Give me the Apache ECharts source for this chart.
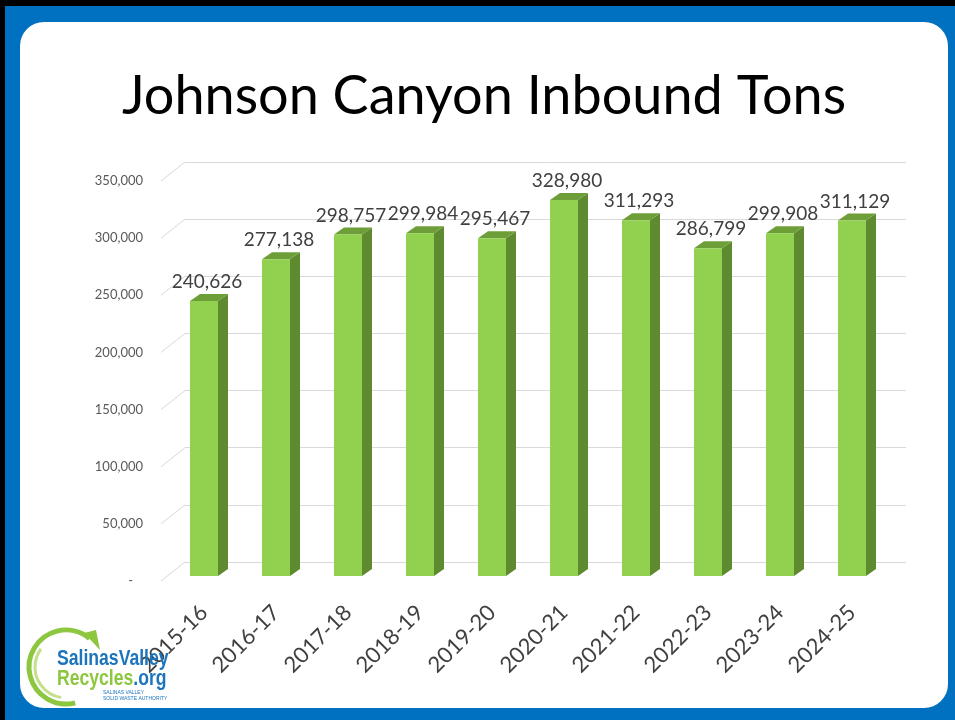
<!DOCTYPE html>
<html><head><meta charset="utf-8">
<script src="https://cdn.jsdelivr.net/npm/echarts@6/dist/echarts.min.js"></script>
<style>html,body{margin:0;padding:0;background:#0070C0;} #c{width:955px;height:720px;}</style>
</head><body><div id="c"></div>
<script>
const categories = ['2015-16','2016-17','2017-18','2018-19','2019-20','2020-21','2021-22','2022-23','2023-24','2024-25'];
const tons = [240626,277138,298757,299984,295467,328980,311293,286799,299908,311129];
const yTicks = [0,50000,100000,150000,200000,250000,300000,350000];
const titleText = 'Johnson Canyon Inbound Tons';

const FONT = 'Lato, "Open Sans", "Noto Sans", sans-serif';
const LOGO = '"Liberation Sans Narrow", "Liberation Sans", sans-serif';
const fmt = v => v === 0 ? '-' : v.toLocaleString('en-US');

const chart = echarts.init(document.getElementById('c'), null, {renderer:'canvas'});

function renderBar(params, api){
  const i = api.value(0), v = api.value(1);
  const top = api.coord([i, v]);
  const base = api.coord([i, 0]);
  const hw = 14, dx = 10, dy = -7;
  const x0 = top[0]-hw, x1 = top[0]+hw, yt = top[1], yb = base[1];
  return {type:'group', children:[
    {type:'polygon', shape:{points:[[x1,yt],[x1+dx,yt+dy],[x1+dx,yb+dy],[x1,yb]]}, style:{fill:'#5E8A30'}},
    {type:'polygon', shape:{points:[[x0,yt],[x0+dx,yt+dy],[x1+dx,yt+dy],[x1,yt]]}, style:{fill:'#6E9E38'}},
    {type:'rect', shape:{x:x0, y:yt, width:x1-x0, height:yb-yt}, style:{fill:'#92D050'}},
    {type:'text', x: top[0]+3, y: yt-19, style:{text: fmt(v), fill:'#404040', font:'19px '+FONT, align:'center', verticalAlign:'middle'}}
  ]};
}

function renderSlant(params, api){
  const p = api.coord([0, api.value(0)]);
  return {type:'line', shape:{x1:p[0], y1:p[1], x2:p[0]-24, y2:p[1]+19}, style:{stroke:'#D9D9D9', lineWidth:1}};
}

const option = {
  backgroundColor:'#0070C0',
  animation:false,
  graphic:[
    {type:'rect', shape:{x:0,y:0,width:5,height:720}, style:{fill:'#000'}, z:0},
    {type:'rect', shape:{x:0,y:0,width:955,height:6}, style:{fill:'#000'}, z:0},
    {type:'rect', shape:{x:20,y:22,width:928,height:686,r:24}, style:{fill:'#fff'}, z:0},
    {type:'text', x:484, y:97, style:{text:titleText, font:'54px '+FONT, fill:'#000', align:'center', verticalAlign:'middle'}, z:5},
    // logo
    {type:'arc', shape:{cx:66, cy:667, r:37, startAngle:Math.PI*0.42, endAngle:Math.PI*1.72, clockwise:true}, style:{stroke:'#8DC63F', lineWidth:5, fill:null}, z:5},
    {type:'arc', shape:{cx:66, cy:667, r:31, startAngle:Math.PI*0.55, endAngle:Math.PI*1.2, clockwise:true}, style:{stroke:'#C3E08A', lineWidth:3, fill:null}, z:5},
    {type:'polygon', shape:{points:[[84,633],[100,650],[96,630]]}, style:{fill:'#8DC63F'}, z:5},
    {type:'text', x:57, y:648, scaleX:0.8, originX:0, style:{text:'SalinasValley', font:'bold 22px '+LOGO, fill:'#1C75BC'}, z:6},
    {type:'text', x:57, y:668, scaleX:0.8, originX:0, style:{text:'{g|Recycles}{b|.org}', rich:{g:{font:'bold 22px '+LOGO, fill:'#8DC63F'}, b:{font:'bold 22px '+LOGO, fill:'#1C75BC'}}}, z:6},
    {type:'text', x:103, y:690, style:{text:'SALINAS VALLEY\nSOLID WASTE AUTHORITY', font:'5px "Liberation Sans", sans-serif', fill:'#1C75BC', lineHeight:6}, z:6}
  ],
  grid:[
    {left:168, right:67, top:176, bottom:144},
    {left:185, right:49, top:162, bottom:158},
    {left:162, right:72, top:181, bottom:139}
  ],
  xAxis:[
    {gridIndex:0, type:'category', data:categories, axisLine:{show:false}, axisTick:{show:false},
     axisLabel:{rotate:45, fontSize:22, fontFamily:FONT, color:'#404040', margin:33, interval:0}},
    {gridIndex:1, type:'value', min:0, max:1, show:false},
    {gridIndex:2, type:'value', min:0, max:1, show:false}
  ],
  yAxis:[
    {gridIndex:0, type:'value', min:0, max:350000, interval:50000, show:false},
    {gridIndex:1, type:'value', min:0, max:350000, interval:50000, axisLabel:{show:false}, axisLine:{show:false}, axisTick:{show:false}, splitLine:{show:true, lineStyle:{color:'#D9D9D9', width:1}}},
    {gridIndex:2, type:'value', min:0, max:350000, interval:50000, axisLine:{show:false}, axisTick:{show:false}, splitLine:{show:false},
     axisLabel:{margin:19, fontSize:13, fontFamily:FONT, color:'#595959', formatter: v => v===0 ? '-   ' : fmt(v)}}
  ],
  series:[
    {type:'custom', xAxisIndex:1, yAxisIndex:1, data: yTicks.map(v=>[v]), renderItem: renderSlant, encode:{y:0}, z:1, silent:true},
    {type:'custom', xAxisIndex:0, yAxisIndex:0, data: tons.map((v,i)=>[i,v]), renderItem: renderBar, encode:{x:0,y:1}, z:3}
  ]
};
chart.setOption(option);
</script>
</body></html>
